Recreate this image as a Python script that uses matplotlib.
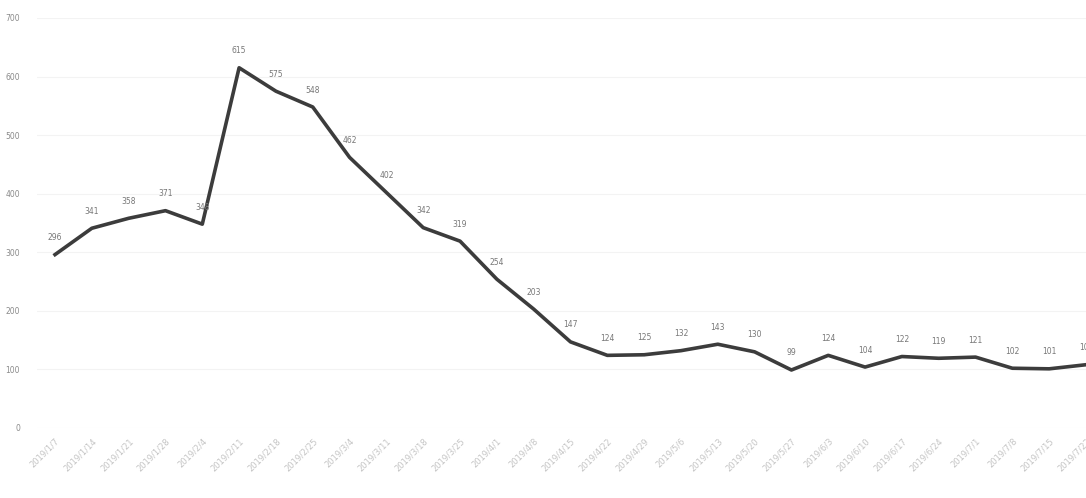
import matplotlib
matplotlib.use("Agg")
import matplotlib.pyplot as plt

categories = [
    "2019/1/7", "2019/1/14", "2019/1/21", "2019/1/28", "2019/2/4",
    "2019/2/11", "2019/2/18", "2019/2/25", "2019/3/4", "2019/3/11",
    "2019/3/18", "2019/3/25", "2019/4/1", "2019/4/8", "2019/4/15",
    "2019/4/22", "2019/4/29", "2019/5/6", "2019/5/13", "2019/5/20",
    "2019/5/27", "2019/6/3", "2019/6/10", "2019/6/17", "2019/6/24",
    "2019/7/1", "2019/7/8", "2019/7/15", "2019/7/22",
]
values = [296, 341, 358, 371, 348, 615, 575, 548, 462, 402,
          342, 319, 254, 203, 147, 124, 125, 132, 143, 130,
          99, 124, 104, 122, 119, 121, 102, 101, 108]
yticks = [0, 100, 200, 300, 400, 500, 600, 700]

fig = plt.figure(figsize=(10.86, 4.98), dpi=100)
ax = fig.add_axes([0.0337, 0.1406, 0.9663, 0.8233])
x = list(range(len(values)))
ax.plot(x, values, color="#3c3c3c", lw=2.6, solid_joinstyle="round")
for xi, v in zip(x, values):
    ax.annotate(str(v), (xi, v), xytext=(0, 9), textcoords="offset points",
                ha="center", va="bottom", fontsize=5.5, color="#777777")

ax.set_xlim(-0.5, 28.0)
ax.set_ylim(0, 700)
ax.set_yticks(yticks)
ax.set_yticklabels([str(t) for t in yticks], fontsize=5.5, color="#8a8a8a")
ax.set_xticks(x)
ax.set_xticklabels(categories, rotation=45, ha="right", rotation_mode="anchor",
                   fontsize=6, color="#c4c4c4")
ax.tick_params(length=0, pad=12)
ax.tick_params(axis="x", pad=6)
for s in ax.spines.values():
    s.set_visible(False)
ax.grid(axis="y", color="#f3f3f3", lw=0.8)
ax.set_axisbelow(True)

fig.savefig("out.png", dpi=100)
